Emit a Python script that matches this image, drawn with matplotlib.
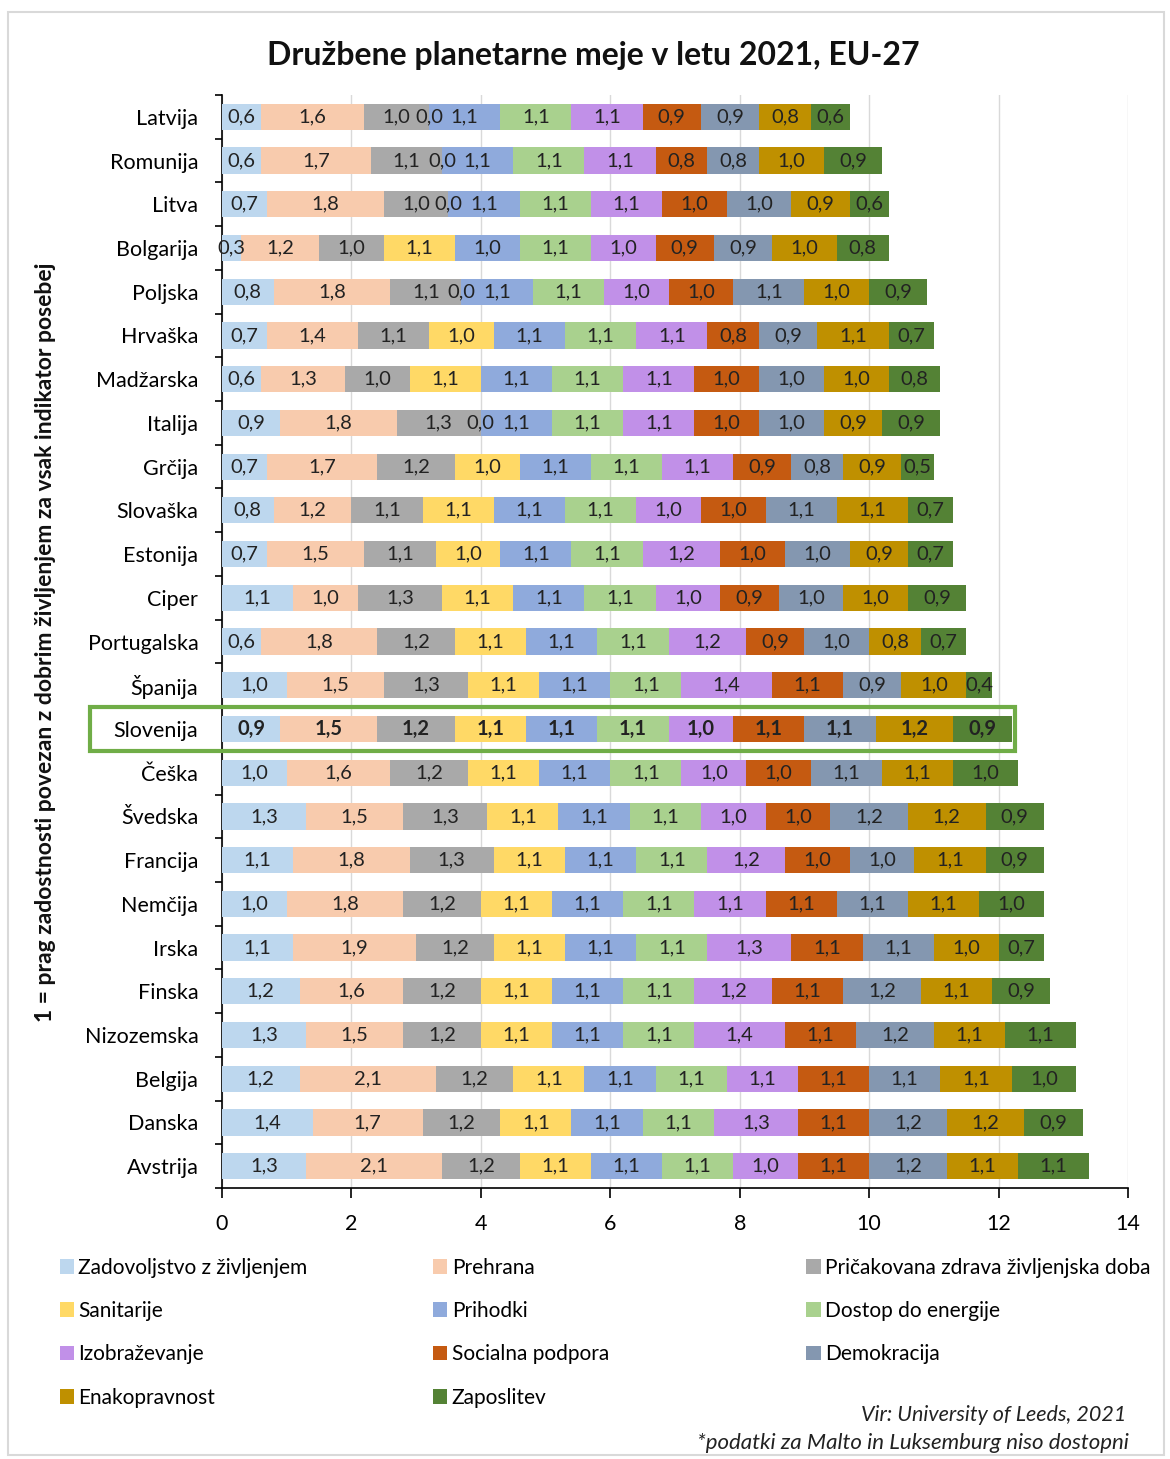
import matplotlib
matplotlib.use("Agg")
import matplotlib.pyplot as plt
from matplotlib.patches import Rectangle, Patch
import numpy as np

plt.rcParams['font.family'] = ['Lato', 'DejaVu Sans']

countries = ["Latvija", "Romunija", "Litva", "Bolgarija", "Poljska", "Hrvaška", "Madžarska",
             "Italija", "Grčija", "Slovaška", "Estonija", "Ciper", "Portugalska", "Španija",
             "Slovenija", "Češka", "Švedska", "Francija", "Nemčija", "Irska", "Finska",
             "Nizozemska", "Belgija", "Danska", "Avstrija"]

zadovoljstvo = [0.6, 0.6, 0.7, 0.3, 0.8, 0.7, 0.6, 0.9, 0.7, 0.8, 0.7, 1.1, 0.6, 1.0, 0.9, 1.0, 1.3, 1.1, 1.0, 1.1, 1.2, 1.3, 1.2, 1.4, 1.3]
prehrana = [1.6, 1.7, 1.8, 1.2, 1.8, 1.4, 1.3, 1.8, 1.7, 1.2, 1.5, 1.0, 1.8, 1.5, 1.5, 1.6, 1.5, 1.8, 1.8, 1.9, 1.6, 1.5, 2.1, 1.7, 2.1]
pricakovana = [1.0, 1.1, 1.0, 1.0, 1.1, 1.1, 1.0, 1.3, 1.2, 1.1, 1.1, 1.3, 1.2, 1.3, 1.2, 1.2, 1.3, 1.3, 1.2, 1.2, 1.2, 1.2, 1.2, 1.2, 1.2]
sanitarije = [0.0, 0.0, 0.0, 1.1, 0.0, 1.0, 1.1, 0.0, 1.0, 1.1, 1.0, 1.1, 1.1, 1.1, 1.1, 1.1, 1.1, 1.1, 1.1, 1.1, 1.1, 1.1, 1.1, 1.1, 1.1]
prihodki = [1.1, 1.1, 1.1, 1.0, 1.1, 1.1, 1.1, 1.1, 1.1, 1.1, 1.1, 1.1, 1.1, 1.1, 1.1, 1.1, 1.1, 1.1, 1.1, 1.1, 1.1, 1.1, 1.1, 1.1, 1.1]
energija = [1.1, 1.1, 1.1, 1.1, 1.1, 1.1, 1.1, 1.1, 1.1, 1.1, 1.1, 1.1, 1.1, 1.1, 1.1, 1.1, 1.1, 1.1, 1.1, 1.1, 1.1, 1.1, 1.1, 1.1, 1.1]
izobrazevanje = [1.1, 1.1, 1.1, 1.0, 1.0, 1.1, 1.1, 1.1, 1.1, 1.0, 1.2, 1.0, 1.2, 1.4, 1.0, 1.0, 1.0, 1.2, 1.1, 1.3, 1.2, 1.4, 1.1, 1.3, 1.0]
socialna = [0.9, 0.8, 1.0, 0.9, 1.0, 0.8, 1.0, 1.0, 0.9, 1.0, 1.0, 0.9, 0.9, 1.1, 1.1, 1.0, 1.0, 1.0, 1.1, 1.1, 1.1, 1.1, 1.1, 1.1, 1.1]
demokracija = [0.9, 0.8, 1.0, 0.9, 1.1, 0.9, 1.0, 1.0, 0.8, 1.1, 1.0, 1.0, 1.0, 0.9, 1.1, 1.1, 1.2, 1.0, 1.1, 1.1, 1.2, 1.2, 1.1, 1.2, 1.2]
enakopravnost = [0.8, 1.0, 0.9, 1.0, 1.0, 1.1, 1.0, 0.9, 0.9, 1.1, 0.9, 1.0, 0.8, 1.0, 1.2, 1.1, 1.2, 1.1, 1.1, 1.0, 1.1, 1.1, 1.1, 1.2, 1.1]
zaposlitev = [0.6, 0.9, 0.6, 0.8, 0.9, 0.7, 0.8, 0.9, 0.5, 0.7, 0.7, 0.9, 0.7, 0.4, 0.9, 1.0, 0.9, 0.9, 1.0, 0.7, 0.9, 1.1, 1.0, 0.9, 1.1]

series_names = ["Zadovoljstvo z življenjem", "Prehrana", "Pričakovana zdrava življenjska doba",
                "Sanitarije", "Prihodki", "Dostop do energije", "Izobraževanje",
                "Socialna podpora", "Demokracija", "Enakopravnost", "Zaposlitev"]
series_values = [zadovoljstvo, prehrana, pricakovana, sanitarije, prihodki, energija,
                 izobrazevanje, socialna, demokracija, enakopravnost, zaposlitev]
colors = ["#BDD7EE", "#F8CBAD", "#A9A9A9", "#FFD966", "#8FAADC", "#A9D18E",
          "#C190E8", "#C55A11", "#8497B0", "#BF9000", "#548235"]

highlight = "Slovenija"

fig = plt.figure(figsize=(11.7, 14.59), dpi=100)
fig.patch.set_facecolor("white")
ax = fig.add_axes([0.1897, 0.1857, 0.7744, 0.7492])

y = np.arange(len(countries))
left = np.zeros(len(countries))
for name, vals, col in zip(series_names, series_values, colors):
    vals = np.array(vals)
    bc = ax.barh(y, vals, left=left, height=0.6, color=col, label=name, zorder=3)
    labels = [f"{v:.1f}".replace(".", ",") for v in vals]
    texts = ax.bar_label(bc, labels=labels, label_type="center", fontsize=14.5,
                         color="#222222", zorder=4)
    for t, c in zip(texts, countries):
        if c == highlight:
            t.set_fontweight("bold")
    left += vals

ax.set_xlim(0, 14)
ax.set_ylim(len(countries) - 0.5, -0.5)
ax.set_xticks(np.arange(0, 15, 2))
ax.set_xticklabels([str(v) for v in range(0, 15, 2)], fontsize=15.5)
ax.set_yticks(y)
ax.set_yticklabels(countries, fontsize=15.5)
ax.set_yticks(np.arange(-0.5, len(countries), 1), minor=True)
ax.tick_params(axis="y", which="major", length=0, pad=17)
ax.tick_params(axis="y", which="minor", length=5, width=1.2, direction="out")
ax.tick_params(axis="x", which="major", length=7, width=1.2, direction="out", pad=12)
ax.grid(axis="x", color="#D9D9D9", linewidth=1, zorder=0)
ax.set_axisbelow(True)
for s in ["top", "right"]:
    ax.spines[s].set_visible(False)
for s in ["left", "bottom"]:
    ax.spines[s].set_color("black")
    ax.spines[s].set_linewidth(1.2)

# highlight box around Slovenija
hi = countries.index(highlight)
ax.add_patch(Rectangle((-2.04, hi - 0.5), 14.3, 1.0, fill=False, edgecolor="#70AD47",
                       linewidth=3, clip_on=False, zorder=5))

fig.text(0.507, 0.962, "Družbene planetarne meje v letu 2021, EU-27", ha="center", va="center",
         fontsize=23, fontweight="bold", color="#111111")
fig.text(0.039, 0.56, "1 = prag zadostnosti povezan z dobrim življenjem za vsak indikator posebej",
         rotation=90, ha="center", va="center", fontsize=16.5, fontweight="bold", color="#111111")

handles = [Patch(facecolor=c, edgecolor="none") for c in colors]
col_idx = [[0, 3, 6, 9], [1, 4, 7, 10], [2, 5, 8]]
col_x = [0.051, 0.370, 0.689]
for idx, xx in zip(col_idx, col_x):
    fig.legend([handles[i] for i in idx], [series_names[i] for i in idx],
               loc="upper left", bbox_to_anchor=(xx, 0.138), frameon=False,
               fontsize=15, handlelength=0.7, handleheight=0.7, handletextpad=0.2,
               labelspacing=1.12, borderaxespad=0, borderpad=0)

fig.text(0.963, 0.030, "Vir: University of Leeds, 2021", ha="right", va="center",
         fontsize=15.5, fontstyle="italic", color="#222222")
fig.text(0.965, 0.011, "*podatki za Malto in Luksemburg niso dostopni", ha="right", va="center",
         fontsize=16, fontstyle="italic", color="#222222")

fig.patches.append(Rectangle((0.007, 0.003), 0.988, 0.989, transform=fig.transFigure,
                             fill=False, edgecolor="#D9D9D9", linewidth=1.5))

fig.savefig("out.png", dpi=100, facecolor="white")
